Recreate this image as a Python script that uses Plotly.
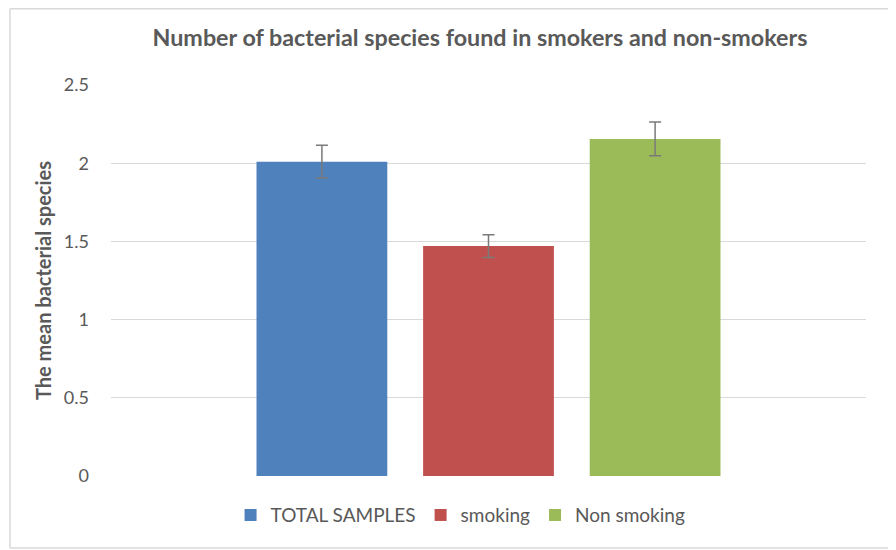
import plotly.graph_objects as go

series_names = ["TOTAL SAMPLES", "smoking", "Non smoking"]
means = [2.01, 1.47, 2.155]
errors = [0.105, 0.073, 0.108]
colors = ["#4F81BD", "#C0504D", "#9BBB59"]
y_ticks = [0, 0.5, 1, 1.5, 2, 2.5]
y_tick_text = ["0", "0.5", "1", "1.5", "2", "2.5"]

fig = go.Figure()
for name, m, e, c in zip(series_names, means, errors, colors):
    fig.add_trace(go.Bar(
        x=[""], y=[m], name=name,
        marker=dict(color=c, line=dict(width=0)),
        error_y=dict(type="data", array=[e], visible=True, color="#7a7a7a", thickness=1.5, width=6),
    ))

border = dict(color="#d9d9d9", width=1.5)
fig.update_layout(
    width=888, height=542,
    paper_bgcolor="white", plot_bgcolor="white",
    margin=dict(l=103, r=30, t=77, b=74),
    barmode="group", bargap=0.338, bargroupgap=0.215,
    font=dict(family="Lato, Open Sans, sans-serif", color="#595959", size=18),
    title=dict(text="<b>Number of bacterial species found in smokers and non-smokers</b>",
               x=0.5315, xanchor="center", y=0.9446, yanchor="middle",
               font=dict(size=23.3, color="#595959", family="Lato, Open Sans, sans-serif")),
    xaxis=dict(showticklabels=False, showline=False, showgrid=False, zeroline=False),
    yaxis=dict(range=[0, 2.5], tickvals=y_ticks, ticktext=y_tick_text, showgrid=True,
               gridcolor="#d9d9d9", gridwidth=1, zeroline=False, showline=False,
               ticks="", ticklabelstandoff=21, tickfont=dict(size=18, color="#595959"),
               title=dict(text="<b>The mean bacterial species</b>", standoff=6,
                          font=dict(size=20, color="#595959"))),
    legend=dict(orientation="h", x=0.463, xanchor="center", y=-0.10, yanchor="middle",
                font=dict(size=19, color="#595959"), itemwidth=30, traceorder="normal"),
    showlegend=True,
    shapes=[
        dict(type="line", xref="paper", yref="paper", x0=-0.1338, x1=-0.1338, y0=-0.184, y1=1.195, line=border, layer="below"),
        dict(type="line", xref="paper", yref="paper", x0=-0.1338, x1=1.3, y0=1.195, y1=1.195, line=border, layer="below"),
        dict(type="line", xref="paper", yref="paper", x0=-0.1338, x1=1.3, y0=-0.184, y1=-0.184, line=border, layer="below"),
    ],
)

fig.write_html("out.html")
